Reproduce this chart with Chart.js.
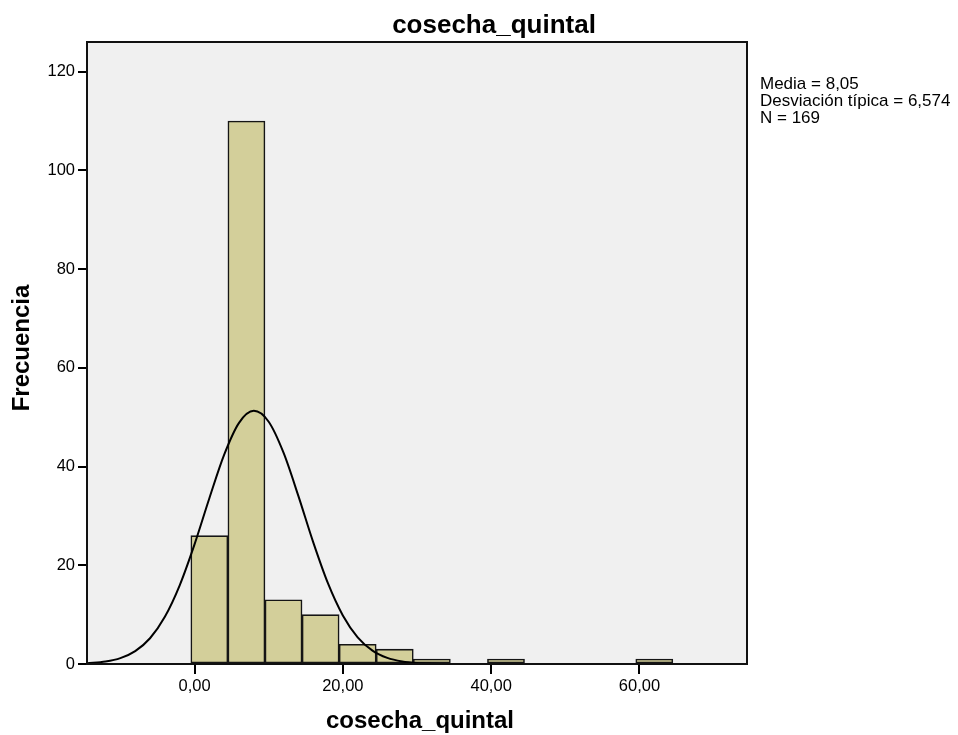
<!DOCTYPE html>
<html>
<head>
<meta charset="utf-8">
<script src="https://cdn.jsdelivr.net/npm/chart.js@4/dist/chart.umd.min.js"></script>
<style>
  html, body { margin: 0; padding: 0; background: #ffffff; }
  #wrap { width: 958px; height: 735px; position: relative; }
</style>
</head>
<body>
<div id="wrap"><canvas id="c" width="958" height="735"></canvas></div>
<script>
// ---- data ----
const chartTitle = "cosecha_quintal";
const xAxisTitle = "cosecha_quintal";
const yAxisTitle = "Frecuencia";
const statsLines = ["Media = 8,05", "Desviación típica = 6,574", "N = 169"];

// histogram bins (bin centres, width 5) and frequencies
const binCenters = [2, 7, 12, 17, 22, 27, 32, 42, 62];
const binCounts  = [26, 110, 13, 10, 4, 3, 1, 1, 1];

// normal curve overlay
const curveX = [-14.5, -12, -10, -8, -6, -4, -2, 0, 2, 4, 6, 8, 10, 12, 14, 16, 18, 20, 22, 24, 26, 28, 30, 32, 34, 36];
const curveY = [0.14, 0.49, 1.18, 2.61, 5.22, 9.56, 15.94, 24.23, 33.58, 42.41, 48.85, 51.28, 49.07, 42.8, 34.05, 24.68, 16.31, 9.83, 5.4, 2.7, 1.23, 0.51, 0.19, 0.07, 0.02, 0];

const xTicks = [0, 20, 40, 60];
const yTicks = [0, 20, 40, 60, 80, 100, 120];

const FONT = "'Liberation Sans', Arial, sans-serif";

const bgAndFrame = {
  id: 'bgAndFrame',
  beforeDraw(chart) {
    const {ctx, chartArea: a} = chart;
    ctx.save();
    ctx.fillStyle = '#f0f0f0';
    ctx.fillRect(a.left, a.top, a.right - a.left, a.bottom - a.top);
    ctx.restore();
  },
  afterDatasetsDraw(chart) {
    const {ctx, chartArea: a} = chart;
    ctx.save();
    ctx.strokeStyle = '#111';
    ctx.lineWidth = 2;
    ctx.strokeRect(a.left, a.top, a.right - a.left, a.bottom - a.top);
    ctx.restore();
  },
  afterDraw(chart) {
    const {ctx} = chart;
    ctx.save();
    ctx.fillStyle = '#000';
    ctx.font = "bold 26px " + FONT;
    ctx.textAlign = 'center';
    ctx.textBaseline = 'alphabetic';
    ctx.fillText(chartTitle, 494, 33);
    ctx.font = "bold 24px " + FONT;
    ctx.fillText(xAxisTitle, 420, 728);
    ctx.save();
    ctx.translate(29, 348);
    ctx.rotate(-Math.PI / 2);
    ctx.fillText(yAxisTitle, 0, 0);
    ctx.restore();
    ctx.font = "17px " + FONT;
    ctx.textAlign = 'left';
    statsLines.forEach((s, i) => ctx.fillText(s, 760, 89 + i * 17));
    ctx.restore();
  }
};

new Chart(document.getElementById('c'), {
  type: 'bar',
  data: {
    datasets: [
      {
        type: 'line',
        data: curveX.map((x, i) => ({x: x, y: curveY[i]})),
        borderColor: '#000',
        borderWidth: 2,
        pointRadius: 0,
        fill: false,
        cubicInterpolationMode: 'monotone',
        order: 0
      },
      {
        type: 'bar',
        data: binCenters.map((x, i) => ({x: x, y: binCounts[i]})),
        backgroundColor: '#d3cf9a',
        borderColor: '#151515',
        borderWidth: 1.6,
        borderSkipped: false,
        barPercentage: 1,
        categoryPercentage: 1,
        order: 1
      }
    ]
  },
  options: {
    responsive: false,
    animation: false,
    layout: { padding: { left: 0, top: 42, right: 211, bottom: 0 } },
    plugins: { legend: { display: false }, tooltip: { enabled: false }, title: { display: false } },
    scales: {
      x: {
        type: 'linear',
        min: -14.5,
        max: 74.5,
        offset: false,
        afterBuildTicks(scale) { scale.ticks = xTicks.map(v => ({value: v})); },
        afterFit(scale) { scale.height = 71; },
        grid: { display: true, drawOnChartArea: false, drawTicks: true, tickLength: 10, color: '#000', lineWidth: 2, offset: false },
        border: { display: false },
        ticks: {
          color: '#000',
          padding: 3,
          maxRotation: 0,
          font: { family: FONT, size: 16.5 },
          callback: v => v.toFixed(2).replace('.', ',')
        },
        title: { display: false }
      },
      y: {
        type: 'linear',
        min: 0,
        max: 126,
        afterBuildTicks(scale) { scale.ticks = yTicks.map(v => ({value: v})); },
        afterFit(scale) { scale.width = 87; },
        grid: { display: true, drawOnChartArea: false, drawTicks: true, tickLength: 9, color: '#000', lineWidth: 2 },
        border: { display: false },
        ticks: {
          color: '#000',
          padding: 3,
          font: { family: FONT, size: 16.5 },
          callback: v => String(v)
        },
        title: { display: false }
      }
    }
  },
  plugins: [bgAndFrame]
});
</script>
</body>
</html>
